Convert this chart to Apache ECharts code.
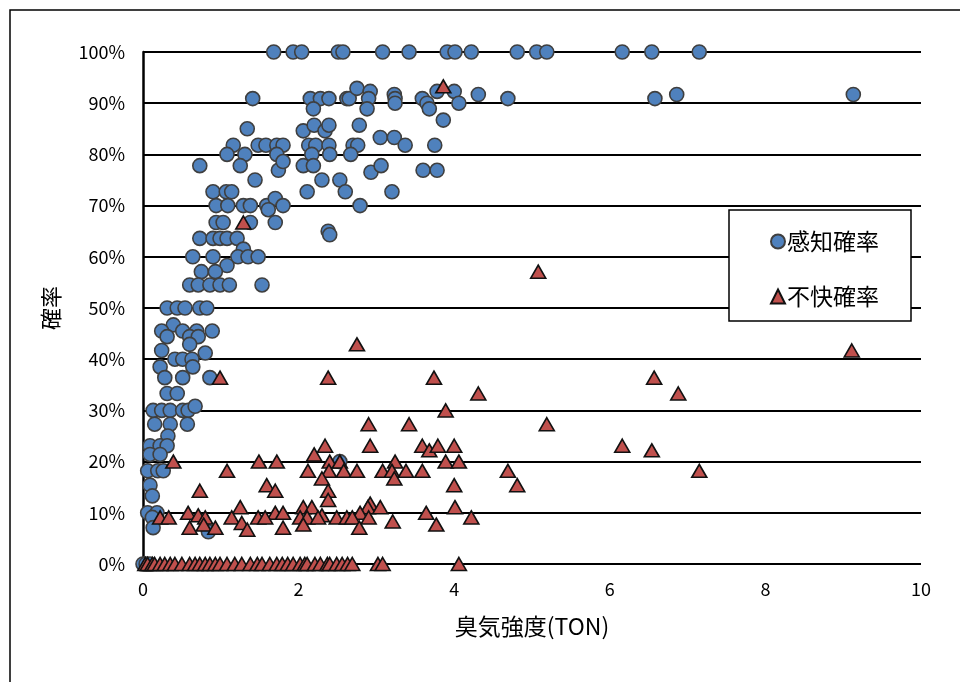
<!DOCTYPE html>
<html>
<head>
<meta charset="utf-8">
<script src="https://cdn.jsdelivr.net/npm/echarts@6/dist/echarts.min.js"></script>
<style>
  html, body { margin: 0; padding: 0; background: #fff; }
  #chart { width: 960px; height: 682px; }
</style>
</head>
<body>
<div id="chart"></div>
<script>
// 臭気強度(TON) と 確率(%) の組
const xTicks = [0, 2, 4, 6, 8, 10];
const yTicks = [0, 10, 20, 30, 40, 50, 60, 70, 80, 90, 100];

// 感知確率
const detectRate = [
  [1.68,100],[1.93,100],[2.04,100],[2.51,100],[2.57,100],[3.08,100],[3.42,100],[3.91,100],
  [4.01,100],[4.22,100],[4.81,100],[5.06,100],[5.19,100],[6.16,100],[6.54,100],[7.15,100],
  [1.41,90.9],[2.15,90.9],[2.28,90.9],[2.19,88.9],[2.39,90.9],[2.62,90.9],[2.65,90.9],[2.75,92.9],
  [2.92,92.3],[2.90,90.9],[2.88,88.9],[3.23,91.7],[3.24,90.9],[3.24,90],[3.59,90.9],[3.65,90],
  [3.68,88.9],[3.78,92.3],[4.00,92.3],[4.06,90],[4.31,91.7],[4.69,90.9],[6.58,90.9],[6.86,91.7],
  [9.13,91.7],[3.86,86.7],
  [1.34,85],[2.06,84.6],[2.20,85.7],[2.34,84.6],[2.39,85.7],[2.78,85.7],
  [1.16,81.8],[1.48,81.8],[1.58,81.8],[1.72,81.8],[1.80,81.8],[2.13,81.8],[2.22,81.8],[2.39,81.8],
  [2.70,81.8],[2.76,81.8],[3.05,83.3],[3.23,83.3],[3.37,81.8],[3.75,81.8],
  [1.08,80],[1.31,80],[1.72,80],[2.17,80],[2.40,80],[2.67,80],
  [0.73,77.8],[1.25,77.8],[1.74,76.9],[1.80,78.6],[2.06,77.8],[2.19,77.8],[2.93,76.5],[3.06,77.8],
  [3.60,76.9],[3.78,76.9],
  [1.44,75],[2.30,75],[2.53,75],
  [0.90,72.7],[1.07,72.7],[1.14,72.7],[2.11,72.7],[2.60,72.7],[3.20,72.7],
  [0.94,70],[1.09,70],[1.29,70],[1.38,70],[1.59,70],[1.70,71.4],[1.80,70],[1.61,69.2],[2.79,70],
  [0.94,66.7],[1.03,66.7],[1.38,66.7],[1.70,66.7],
  [2.38,65],[2.40,64.3],
  [0.73,63.6],[0.90,63.6],[0.99,63.6],[1.08,63.6],[1.21,63.6],[1.29,61.5],
  [0.64,60],[0.90,60],[1.22,60],[1.35,60],[1.48,60],
  [1.08,58.3],[0.75,57.1],[0.93,57.1],
  [0.60,54.5],[0.71,54.5],[0.86,54.5],[0.99,54.5],[1.11,54.5],[1.53,54.5],
  [0.31,50],[0.44,50],[0.54,50],[0.73,50],[0.82,50],
  [0.39,46.7],[0.24,45.5],[0.51,45.5],[0.69,45.5],[0.89,45.5],
  [0.31,44.4],[0.60,44.4],[0.71,44.4],
  [0.24,41.7],[0.60,42.9],[0.80,41.2],
  [0.41,40],[0.51,40],[0.63,40],
  [0.22,38.5],[0.64,38.5],
  [0.28,36.4],[0.51,36.4],[0.86,36.4],
  [0.31,33.3],[0.44,33.3],
  [0.13,30],[0.24,30],[0.35,30],[0.51,30],[0.58,30],[0.67,30.8],
  [0.15,27.3],[0.35,27.3],[0.57,27.3],
  [0.32,25],
  [0.09,23.1],[0.22,23.1],[0.31,23.1],
  [0.09,21.4],[0.22,21.4],
  [0.06,18.2],[0.19,18.2],[0.26,18.2],
  [0.09,15.4],[0.12,13.3],
  [0.06,10],[0.18,10],[0.12,9.1],
  [0.13,7.1],[0.84,6.3],
  [2.53,20],
  [0,0],[0.04,0],[0.09,0]
];

// 不快確率
const unpleasantRate = [
  [3.86,93.3],[5.08,57.1],[1.29,66.7],[2.75,42.9],[9.11,41.7],
  [0.99,36.4],[2.38,36.4],[3.74,36.4],[6.57,36.4],
  [4.31,33.3],[6.88,33.3],[3.89,30],
  [2.90,27.3],[3.42,27.3],[5.19,27.3],
  [2.34,23.1],[2.92,23.1],[3.59,23.1],[3.68,22.2],[3.79,23.1],[4.00,23.1],[6.16,23.1],[6.54,22.2],
  [2.20,21.4],
  [0.39,20],[1.49,20],[1.72,20],[2.40,20],[2.53,20],[3.24,20],[3.89,20],[4.06,20],
  [1.08,18.2],[2.12,18.2],[2.39,18.2],[2.58,18.2],[2.75,18.2],[3.08,18.2],[3.20,18.2],[3.38,18.2],
  [3.59,18.2],[4.69,18.2],[7.15,18.2],
  [2.30,16.7],[3.23,16.7],
  [1.59,15.4],[4.00,15.4],[4.81,15.4],
  [0.73,14.3],[1.70,14.3],[2.38,14.3],
  [2.38,12.5],[2.92,11.8],
  [1.25,11.1],[2.06,11.1],[2.17,11.1],[2.89,11.1],[3.05,11.1],[4.01,11.1],
  [0.58,10],[1.70,10],[1.80,10],[2.79,10],[3.64,10],
  [0.22,9.1],[0.33,9.1],[0.71,9.5],[0.80,9.1],[1.14,9.1],[1.48,9.1],[1.57,9.1],[2.30,9.5],
  [2.02,9.1],[2.11,9.1],[2.25,9.1],[2.49,9.1],[2.62,9.1],[2.69,9.1],[2.90,9.1],[4.22,9.1],
  [1.27,8],[3.21,8.3],
  [0.60,7.1],[0.78,7.7],[0.93,7.1],[1.34,6.7],[2.06,7.7],[1.80,7.1],[2.78,7.1],[3.77,7.7],
  [0.03,0],[0.06,0],[0.12,0],[0.15,0],[0.22,0],[0.28,0],[0.35,0],[0.41,0],[0.50,0],[0.60,0],
  [0.67,0],[0.73,0],[0.80,0],[0.86,0],[0.93,0],[0.99,0],[1.08,0],[1.18,0],[1.27,0],[1.38,0],
  [1.47,0],[1.53,0],[1.63,0],[1.72,0],[1.79,0],[1.86,0],[1.93,0],[2.02,0],[2.08,0],[2.11,0],
  [2.21,0],[2.28,0],[2.37,0],[2.40,0],[2.49,0],[2.56,0],[2.63,0],[2.69,0],[3.02,0],[3.08,0],
  [4.06,0]
];

const FONT = '"Noto Sans CJK JP", "Noto Sans", sans-serif';

const chart = echarts.init(document.getElementById('chart'), null, { renderer: 'canvas' });

chart.setOption({
  backgroundColor: '#ffffff',
  animation: false,
  textStyle: { fontFamily: FONT, color: '#000' },
  graphic: [{
    type: 'rect',
    shape: { x: 10, y: 10, width: 980, height: 700 },
    style: { fill: 'none', stroke: '#000', lineWidth: 1.5 },
    silent: true,
    z: -10
  }],
  grid: { left: 143, right: 39, top: 52, bottom: 118, containLabel: false },
  legend: {
    orient: 'vertical',
    left: 729,
    top: 210,
    padding: [20, 32, 13, 41],
    itemGap: 32,
    itemWidth: 14,
    itemHeight: 14,
    borderColor: '#000',
    borderWidth: 1.5,
    backgroundColor: '#fff',
    textStyle: { fontFamily: FONT, fontSize: 23, color: '#000', lineHeight: 20, padding: [0, 0, 0, -3] },
    data: ['感知確率', '不快確率']
  },
  xAxis: {
    type: 'value',
    min: 0,
    max: 10,
    interval: 2,
    name: '臭気強度(TON)',
    nameLocation: 'middle',
    nameGap: 51,
    nameTextStyle: { fontFamily: FONT, fontSize: 23, color: '#000' },
    axisLine: { show: false },
    axisTick: { show: false },
    splitLine: { show: false },
    axisLabel: {
      fontFamily: FONT, fontSize: 18, color: '#000', margin: 16,
      customValues: xTicks
    }
  },
  yAxis: {
    type: 'value',
    min: 0,
    max: 100,
    interval: 10,
    name: '確率',
    nameLocation: 'middle',
    nameRotate: 90,
    nameGap: 81,
    nameTextStyle: { fontFamily: FONT, fontSize: 22, color: '#000' },
    axisLine: { show: true, lineStyle: { color: '#000', width: 2.5 } },
    axisTick: { show: false },
    splitLine: { show: true, lineStyle: { color: '#000', width: 2 } },
    axisLabel: {
      fontFamily: FONT, fontSize: 18, color: '#000', margin: 18,
      formatter: v => yTicks.includes(v) ? v + '%' : ''
    }
  },
  series: [
    {
      name: '感知確率',
      type: 'scatter',
      symbol: 'circle',
      symbolSize: 14,
      data: detectRate,
      itemStyle: { color: '#4F81BD', borderColor: '#3F3F3F', borderWidth: 1.6, opacity: 1 },
      emphasis: { disabled: true },
      z: 2
    },
    {
      name: '不快確率',
      type: 'scatter',
      symbol: 'triangle',
      symbolSize: [15, 13],
      data: unpleasantRate,
      itemStyle: { color: '#C0504D', borderColor: '#111', borderWidth: 1.6, opacity: 1 },
      emphasis: { disabled: true },
      z: 3
    }
  ]
});
</script>
</body>
</html>
